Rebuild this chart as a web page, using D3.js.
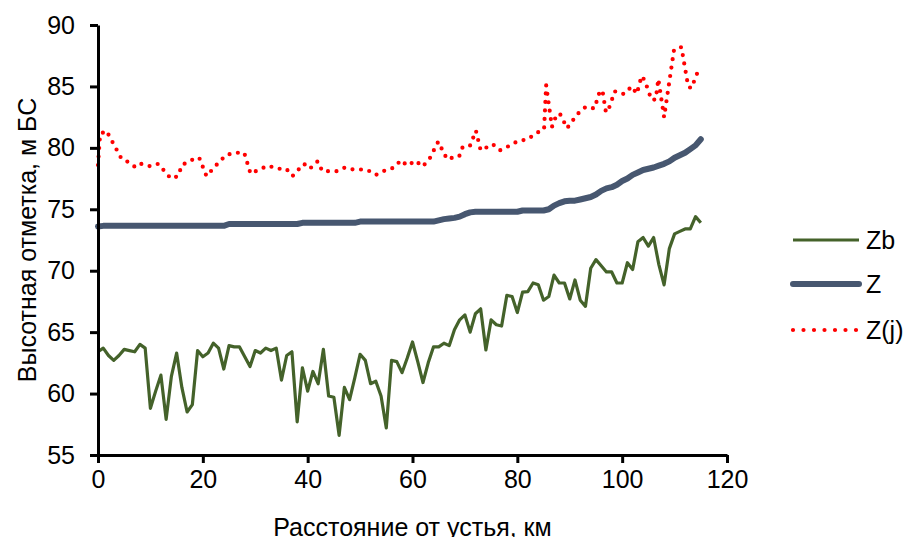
<!DOCTYPE html>
<html>
<head>
<meta charset="utf-8">
<script src="https://cdn.jsdelivr.net/npm/d3@7"></script>
<style>
  html, body { margin: 0; padding: 0; background: #fff; }
  svg { display: block; font-family: "Liberation Sans", Arial, sans-serif; }
</style>
</head>
<body>
<svg id="chart" width="908" height="537"></svg>
<script>
// Longitudinal profile of the river: distance from the mouth (km)
const stationKm = d3.range(0, 116);

// Bed elevation Zb, m (one value per km)
const zbValues = [
  63.4, 63.7, 63.1, 62.7, 63.1, 63.6, 63.5, 63.4, 64.0, 63.7,
  58.8, 60.2, 61.5, 57.9, 61.4, 63.3, 60.5, 58.5, 59.1, 63.5,
  63.0, 63.3, 64.1, 63.7, 62.0, 63.9, 63.8, 63.8, 63.0, 62.2,
  63.5, 63.3, 63.7, 63.5, 63.7, 61.1, 63.1, 63.4, 57.7, 62.1,
  60.2, 61.8, 60.8, 63.6, 59.8, 59.7, 56.6, 60.5, 59.5, 61.3,
  63.2, 62.7, 60.8, 61.0, 59.8, 57.2, 62.7, 62.6, 61.7, 62.9,
  64.2, 62.6, 60.9, 62.5, 63.8, 63.8, 64.1, 63.9, 65.2, 66.0,
  66.4, 65.0, 66.5, 66.9, 63.55, 66.0, 65.6, 65.5, 68.0, 67.9,
  66.6, 68.25, 68.3, 69.0, 68.85, 67.6, 67.9, 69.65, 69.0, 69.0,
  67.7, 69.25, 67.6, 67.1, 70.2, 70.9, 70.4, 69.9, 69.9, 69.0,
  69.0, 70.65, 70.1, 72.35, 72.7, 72.0, 72.7, 70.5, 68.85, 71.8,
  73.0, 73.2, 73.4, 73.4, 74.4, 73.9
];

// Water surface Z, m (one value per km)
const zValues = [
  73.6, 73.65, 73.65, 73.65, 73.65, 73.65, 73.65, 73.65, 73.65, 73.65,
  73.65, 73.65, 73.65, 73.65, 73.65, 73.65, 73.65, 73.65, 73.65, 73.65,
  73.65, 73.65, 73.65, 73.65, 73.65, 73.8, 73.8, 73.8, 73.8, 73.8,
  73.8, 73.8, 73.8, 73.8, 73.8, 73.8, 73.8, 73.8, 73.8, 73.9,
  73.9, 73.9, 73.9, 73.9, 73.9, 73.9, 73.9, 73.9, 73.9, 73.9,
  74.0, 74.0, 74.0, 74.0, 74.0, 74.0, 74.0, 74.0, 74.0, 74.0,
  74.0, 74.0, 74.0, 74.0, 74.0, 74.1, 74.2, 74.25, 74.3, 74.4,
  74.6, 74.75, 74.8, 74.8, 74.8, 74.8, 74.8, 74.8, 74.8, 74.8,
  74.8, 74.9, 74.9, 74.9, 74.9, 74.9, 75.0, 75.3, 75.5, 75.65,
  75.7, 75.7, 75.8, 75.9, 76.0, 76.2, 76.5, 76.7, 76.8, 77.0,
  77.3, 77.5, 77.8, 78.0, 78.2, 78.3, 78.4, 78.55, 78.7, 78.9,
  79.2, 79.4, 79.6, 79.9, 80.2, 80.7
];

// Z(j) profile: its own set of stations (km) and elevations (m)
const zjKm = [
  0, 0.4, 1.6, 4.5, 6, 7.2, 8.3, 10, 11.5, 13.9,
  15.3, 16, 18.3, 19.3, 20.7, 23, 24.4, 26, 27.9, 29.1,
  30.8, 32.5, 34.2, 35.9, 37.1, 38.4, 39.3, 40.4, 41.9, 42.8,
  45.5, 47.1, 48.5, 49.8, 51.4, 53, 54.7, 56.5, 57.8, 59,
  60.6, 61.9, 63.2, 64.9, 66.6, 67.6, 68.9, 69.6, 71, 72.1,
  73, 74.2, 75.3, 76.7, 78.4, 80.1, 82, 83.6, 85.1, 85.5,
  86.6, 87.4, 88.1, 89.5, 90.7, 91.9, 93.1, 94.7, 95.8, 96.3,
  96.9, 97.3, 98.6, 99.6, 100.5, 101.8, 102.8, 103.7, 104.3, 105.6,
  106.4, 106.9, 108, 109.9, 111.3, 112.6, 113.2, 114.7
];
const zjValues = [
  78.6, 81.1, 81.4, 79.1, 78.8, 78.4, 78.7, 78.5, 78.7, 77.5,
  77.7, 78.6, 79.1, 79.2, 77.7, 78.8, 79.4, 79.6, 79.6, 77.9,
  78.25, 78.55, 78.3, 78.3, 77.7, 78.3, 78.7, 78.3, 78.9, 78.1,
  78.1, 78.4, 78.25, 78.25, 78.2, 77.8, 78.15, 78.4, 79.0, 78.55,
  78.96, 78.47, 79.07, 80.5, 79.07, 79.2, 79.3, 80.1, 80.2, 81.4,
  79.8, 80.05, 80.3, 79.8, 80.15, 80.55, 80.7, 81.2, 81.5, 85.1,
  81.7, 82.6, 82.8, 81.6, 82.3, 82.95, 83.35, 83.2, 84.7, 84.5,
  82.9, 83.0, 84.6, 84.4, 84.4, 85.0, 84.4, 85.85, 85.5, 83.9,
  83.95, 85.6, 82.5, 88.0, 88.2, 85.0, 84.85, 86.5
];

const xTicks = [0, 20, 40, 60, 80, 100, 120];
const yTicks = [55, 60, 65, 70, 75, 80, 85, 90];
const seriesNames = ["Zb", "Z", "Z(j)"];

const colors = { Zb: "#44622a", Z: "#475770", "Z(j)": "#ff0000" };
const fontSize = "25px";

const svg = d3.select("#chart");
const plot = { left: 98, right: 727, top: 25, bottom: 455 };

const x = d3.scaleLinear().domain([0, 120]).range([plot.left, plot.right]);
const y = d3.scaleLinear().domain([55, 90]).range([plot.bottom, plot.top]);

// Series lines
const line = d3.line().x(d => x(d[0])).y(d => y(d[1]));

svg.append("path")
  .datum(stationKm.map((k, i) => [k, zbValues[i]]))
  .attr("d", line)
  .attr("fill", "none")
  .attr("stroke", colors.Zb)
  .attr("stroke-width", 3.2)
  .attr("stroke-linejoin", "round");

svg.append("path")
  .datum(stationKm.map((k, i) => [k, zValues[i]]))
  .attr("d", line)
  .attr("fill", "none")
  .attr("stroke", colors.Z)
  .attr("stroke-width", 6)
  .attr("stroke-linejoin", "round")
  .attr("stroke-linecap", "round");

svg.append("path")
  .datum(zjKm.map((k, i) => [k, zjValues[i]]))
  .attr("d", line)
  .attr("fill", "none")
  .attr("stroke", colors["Z(j)"])
  .attr("stroke-width", 4.2)
  .attr("stroke-linecap", "round")
  .attr("stroke-dasharray", "0 8.5");

// Axes
const xAxis = d3.axisBottom(x).tickValues(xTicks).tickSize(8).tickPadding(7).tickSizeOuter(0);
const yAxis = d3.axisLeft(y).tickValues(yTicks).tickSize(8).tickPadding(15).tickSizeOuter(0);

const gx = svg.append("g").attr("transform", `translate(0,${plot.bottom})`).call(xAxis);
const gy = svg.append("g").attr("transform", `translate(${plot.left},0)`).call(yAxis);

[gx, gy].forEach(g => {
  g.select(".domain").attr("stroke", "#000").attr("stroke-width", 3);
  g.selectAll(".tick line").attr("stroke", "#000").attr("stroke-width", 3);
  g.selectAll(".tick text")
    .attr("fill", "#000")
    .style("font-family", "'Liberation Sans', Arial, sans-serif")
    .style("font-size", fontSize);
});

// Axis titles
svg.append("text")
  .attr("x", (plot.left + plot.right) / 2)
  .attr("y", 536)
  .attr("text-anchor", "middle")
  .style("font-size", fontSize)
  .text("Расстояние от устья, км");

svg.append("text")
  .attr("transform", `translate(36,${(plot.top + plot.bottom) / 2}) rotate(-90)`)
  .attr("text-anchor", "middle")
  .style("font-size", fontSize)
  .text("Высотная отметка, м БС");

// Legend
const legendRows = [
  { name: seriesNames[0], y: 240, width: 3.2, dash: null, cap: "butt" },
  { name: seriesNames[1], y: 284, width: 6, dash: null, cap: "round" },
  { name: seriesNames[2], y: 330, width: 4.2, dash: "0 10.5", cap: "round" }
];
const legend = svg.append("g");
legendRows.forEach(r => {
  legend.append("line")
    .attr("x1", 793).attr("x2", 859)
    .attr("y1", r.y).attr("y2", r.y)
    .attr("stroke", colors[r.name])
    .attr("stroke-width", r.width)
    .attr("stroke-linecap", r.cap)
    .attr("stroke-dasharray", r.dash);
  legend.append("text")
    .attr("x", 866)
    .attr("y", r.y)
    .attr("dy", "0.36em")
    .style("font-size", fontSize)
    .text(r.name);
});
</script>
</body>
</html>
